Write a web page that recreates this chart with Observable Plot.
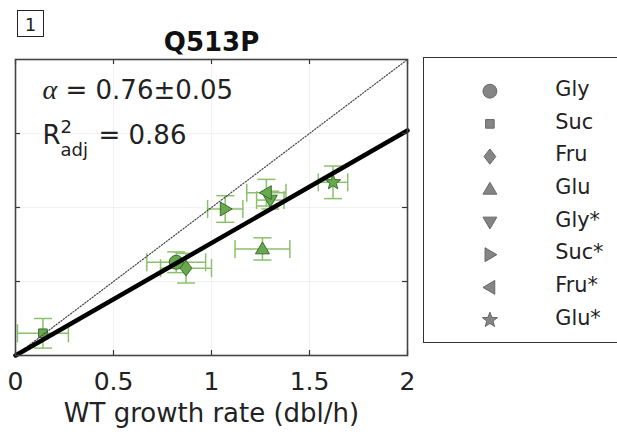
<!DOCTYPE html>
<html>
<head>
<meta charset="utf-8">
<script src="https://cdn.jsdelivr.net/npm/d3@7"></script>
<script src="https://cdn.jsdelivr.net/npm/@observablehq/plot@0.6"></script>
<style>
  html, body { margin: 0; padding: 0; background: #fff; }
  body { width: 617px; height: 434px; position: relative; overflow: hidden; font-family: "DejaVu Sans", sans-serif; }
  #panel { position: absolute; left: 17px; top: 10px; width: 27px; height: 27px; border: 1px solid #222; box-sizing: border-box;
           font-size: 18px; line-height: 27px; text-align: center; color: #222; }
  #chart { position: absolute; left: 0; top: 0; }
  #legend { position: absolute; left: 423px; top: 57px; width: 220px; height: 286px; border: 1.5px solid #333; box-sizing: border-box; background: #fff; }
  #legend svg { position: absolute; left: 0; top: 0; }
</style>
</head>
<body>
<div id="chart"></div>
<div id="panel">1</div>
<div id="legend"></div>
<script>
// ---- data ----
const conditions = ["Gly", "Suc", "Fru", "Glu", "Gly*", "Suc*", "Fru*", "Glu*"];
const wtRate     = [0.82, 0.14, 0.87, 1.26, 1.30, 1.07, 1.28, 1.62];
const mutRate    = [0.63, 0.15, 0.59, 0.72, 1.05, 0.99, 1.10, 1.17];
const wtErr      = [0.15, 0.13, 0.13, 0.14, 0.07, 0.09, 0.10, 0.075];
const mutErr     = [0.07, 0.10, 0.10, 0.075, 0.06, 0.09, 0.09, 0.11];
const alpha = 0.76;
const alphaErr = 0.05;
const r2adj = 0.86;
const lineX = [0, 2];
const xTicks = [0, 0.5, 1, 1.5, 2];
const yTicks = [0.5, 1, 1.5];
const title = "Q513P";
const xLabel = "WT growth rate (dbl/h)";

const rows = conditions.map((c, i) => ({cond: c, x: wtRate[i], y: mutRate[i], xe: wtErr[i], ye: mutErr[i]}));

// ---- symbols ----
function sym(fn) { return {draw(ctx, size) { const r = Math.sqrt(size / Math.PI); fn(ctx, r); }}; }
function poly(ctx, pts) { ctx.moveTo(pts[0][0], pts[0][1]); for (let k = 1; k < pts.length; k++) ctx.lineTo(pts[k][0], pts[k][1]); ctx.closePath(); }
const SYMS = [
  sym((c, r) => { c.moveTo(r, 0); c.arc(0, 0, r, 0, 2 * Math.PI); }),
  sym((c, r) => { const h = 0.62 * r; poly(c, [[-h, -h], [h, -h], [h, h], [-h, h]]); }),
  sym((c, r) => { poly(c, [[0, -1.1 * r], [0.85 * r, 0], [0, 1.1 * r], [-0.85 * r, 0]]); }),
  sym((c, r) => { poly(c, [[0, -r], [r, 0.7 * r], [-r, 0.7 * r]]); }),
  sym((c, r) => { poly(c, [[0, r], [r, -0.7 * r], [-r, -0.7 * r]]); }),
  sym((c, r) => { poly(c, [[r, 0], [-0.7 * r, -r], [-0.7 * r, r]]); }),
  sym((c, r) => { poly(c, [[-r, 0], [0.7 * r, -r], [0.7 * r, r]]); }),
  sym((c, r) => { const R = 1.15 * r, q = 0.42 * R, pts = [];
    for (let k = 0; k < 10; k++) { const a = -Math.PI / 2 + k * Math.PI / 5, rr = k % 2 ? q : R; pts.push([rr * Math.cos(a), rr * Math.sin(a)]); }
    poly(c, pts); })
];
const vcap = sym((c, r) => { c.moveTo(0, -r); c.lineTo(0, r); });
const hcap = sym((c, r) => { c.moveTo(-r, 0); c.lineTo(r, 0); });

const W = 617, H = 434, mL = 15, mR = 210, mT = 59, mB = 79;
const pw = W - mL - mR, ph = H - mT - mB;
const errColor = "#8cc06c", fillColor = "#6aa84f", edgeColor = "#35702a";

const chart = Plot.plot({
  width: W, height: H,
  marginLeft: mL, marginRight: mR, marginTop: mT, marginBottom: mB,
  style: {fontFamily: "DejaVu Sans", fontSize: "25px", background: "transparent", overflow: "visible", color: "#222"},
  x: {domain: [0, 2]},
  y: {domain: [0, 2], axis: null},
  symbol: {domain: conditions, range: SYMS},
  marks: [
    Plot.ruleX(xTicks.slice(1, -1), {stroke: "#000", strokeOpacity: 0.05}),
    Plot.ruleY(yTicks, {stroke: "#000", strokeOpacity: 0.05}),
    // error bars
    Plot.link(rows, {x1: d => d.x - d.xe, x2: d => d.x + d.xe, y1: "y", y2: "y", stroke: errColor, strokeWidth: 1.5}),
    Plot.link(rows, {x1: "x", x2: "x", y1: d => d.y - d.ye, y2: d => d.y + d.ye, stroke: errColor, strokeWidth: 1.5}),
    Plot.dot(rows, {x: d => d.x - d.xe, y: "y", symbol: vcap, r: 9, fill: "none", stroke: errColor, strokeWidth: 1.5}),
    Plot.dot(rows, {x: d => d.x + d.xe, y: "y", symbol: vcap, r: 9, fill: "none", stroke: errColor, strokeWidth: 1.5}),
    Plot.dot(rows, {x: "x", y: d => d.y - d.ye, symbol: hcap, r: 9, fill: "none", stroke: errColor, strokeWidth: 1.5}),
    Plot.dot(rows, {x: "x", y: d => d.y + d.ye, symbol: hcap, r: 9, fill: "none", stroke: errColor, strokeWidth: 1.5}),
    // markers
    Plot.dot(rows, {x: "x", y: "y", symbol: "cond", r: 7, fill: fillColor, stroke: edgeColor, strokeWidth: 1}),
    // identity and fit lines
    Plot.line(lineX, {x: d => d, y: d => d, stroke: "#444", strokeWidth: 1.2, strokeDasharray: "1.2,1.8"}),
    Plot.line(lineX, {x: d => d, y: d => alpha * d, stroke: "#000", strokeWidth: 4.5}),
    // inward ticks
    Plot.ruleX(xTicks, {insetTop: ph - 5, stroke: "#333", strokeWidth: 1.2}),
    Plot.ruleX(xTicks, {insetBottom: ph - 5, stroke: "#333", strokeWidth: 1.2}),
    Plot.ruleY(yTicks, {insetRight: pw - 5, stroke: "#333", strokeWidth: 1.2}),
    Plot.ruleY(yTicks, {insetLeft: pw - 5, stroke: "#333", strokeWidth: 1.2}),
    Plot.frame({stroke: "#444", strokeWidth: 1.6}),
    Plot.axisX({ticks: xTicks, tickFormat: d => String(d), tickSize: 0, tickPadding: 17, label: null, fontSize: 25, fill: "#222"}),
    // texts
    Plot.text([title], {frameAnchor: "top", dy: -9, lineAnchor: "bottom", fontWeight: "bold", fontSize: 26, fill: "#111"}),
    Plot.text([xLabel], {frameAnchor: "bottom", dy: 66, lineAnchor: "bottom", fontSize: 26, fill: "#222"}),
    Plot.text(["α"], {frameAnchor: "top-left", dx: 27, dy: 39, lineAnchor: "bottom", textAnchor: "start", fontSize: 28, fontStyle: "italic", fontFamily: "Liberation Serif", fill: "#222"}),
    Plot.text([`= ${alpha.toFixed(2)}±${alphaErr.toFixed(2)}`], {frameAnchor: "top-left", dx: 50, dy: 39, lineAnchor: "bottom", textAnchor: "start", fontSize: 26, fill: "#222"}),
    Plot.text(["R"], {frameAnchor: "top-left", dx: 27, dy: 84, lineAnchor: "bottom", textAnchor: "start", fontSize: 26, fill: "#222"}),
    Plot.text(["2"], {frameAnchor: "top-left", dx: 45, dy: 73, lineAnchor: "bottom", textAnchor: "start", fontSize: 18, fill: "#222"}),
    Plot.text(["adj"], {frameAnchor: "top-left", dx: 45, dy: 96, lineAnchor: "bottom", textAnchor: "start", fontSize: 18, fill: "#222"}),
    Plot.text([`= ${r2adj.toFixed(2)}`], {frameAnchor: "top-left", dx: 83, dy: 84, lineAnchor: "bottom", textAnchor: "start", fontSize: 26, fill: "#222"})
  ]
});
document.getElementById("chart").appendChild(chart);

// ---- legend ----
const legend = Plot.plot({
  width: 220, height: 286,
  margin: 0,
  style: {fontFamily: "DejaVu Sans", fontSize: "21px", background: "transparent", color: "#222"},
  y: {type: "point", domain: conditions, range: [30, 266], padding: 0, axis: null},
  x: {axis: null},
  symbol: {domain: conditions, range: SYMS},
  marks: [
    Plot.dot(conditions, {y: d => d, frameAnchor: "left", dx: 66, symbol: d => d, r: 7, fill: "#858585", stroke: "#666", strokeWidth: 1}),
    Plot.text(conditions, {y: d => d, frameAnchor: "left", dx: 132, dy: -2, textAnchor: "start", fontSize: 21, fill: "#222"})
  ]
});
document.getElementById("legend").appendChild(legend);
</script>
</body>
</html>
